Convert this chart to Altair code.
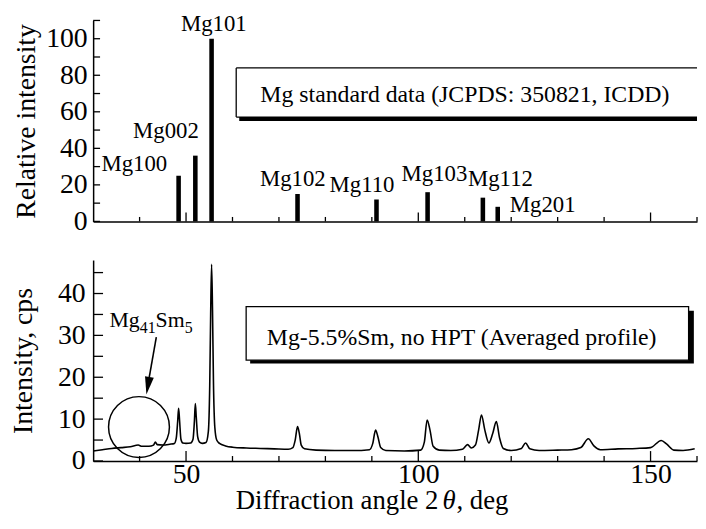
import altair as alt
import pandas as pd

FONT = "Liberation Serif"

# ---------------- data ----------------
# Mg standard (JCPDS 350821) stick pattern
std_angle = [48.4, 52.0, 55.5, 74.0, 91.0, 102.0, 113.9, 117.1]
std_int = [25, 36, 100, 15, 12, 16, 13, 8]
std_label = ["Mg100", "Mg002", "Mg101", "Mg102", "Mg110", "Mg103", "Mg112", "Mg201"]
# label anchors (left edge / baseline) in data units
label_x = [31.8, 38.6, 48.9, 65.9, 80.9, 96.4, 110.7, 119.7]
label_y = [27.6, 45.6, 104.0, 19.5, 15.9, 22.2, 19.5, 5.1]

# Mg-5.5%Sm, no HPT averaged XRD profile
spec_angle = [30.0, 32.0, 34.0, 36.0, 38.0, 39.7, 40.5, 42.0, 43.0, 43.4, 43.8, 45.0, 46.5,
              47.5, 47.9, 48.2, 48.4, 48.6, 48.9, 49.3, 50.0, 51.0, 51.5, 51.8, 52.0, 52.2,
              52.5, 52.9, 53.5, 54.3, 54.8, 55.1, 55.3, 55.5, 55.7, 55.9, 56.2, 56.6, 57.2,
              58.5, 60.0, 63.0, 66.0, 69.0, 72.0, 73.0, 73.5, 74.0, 74.4, 74.8, 75.5, 78.0,
              82.0, 86.0, 89.5, 90.2, 90.8, 91.3, 91.9, 93.0, 97.0, 100.5, 101.3, 101.9,
              102.5, 103.2, 104.5, 107.0, 109.5, 110.6, 111.4, 112.3, 113.0, 113.6, 114.3,
              115.2, 116.0, 116.8, 117.5, 118.3, 120.0, 122.2, 123.1, 124.0, 126.0, 130.0,
              133.0, 135.0, 136.6, 137.8, 139.2, 143.0, 147.0, 150.0, 152.3, 153.5, 155.0,
              157.0, 159.5]
spec_int = [2.4, 2.7, 3.0, 3.2, 3.4, 3.8, 3.5, 3.5, 3.8, 4.5, 3.9, 3.8, 4.0,
            4.2, 5.5, 9.5, 12.6, 9.8, 5.2, 4.3, 4.2, 4.3, 5.2, 9.5, 13.7, 10.5,
            5.8, 4.5, 4.2, 4.4, 7.0, 18.0, 35.0, 47.0, 36.0, 19.0, 8.0, 5.0, 4.2,
            3.6, 3.3, 3.1, 3.0, 2.9, 2.8, 3.2, 5.0, 8.2, 6.5, 3.8, 2.9, 2.6,
            2.5, 2.5, 2.7, 4.2, 7.4, 5.8, 3.2, 2.5, 2.4, 2.6, 4.5, 9.8,
            7.5, 3.5, 2.6, 2.5, 2.8, 3.9, 3.1, 3.8, 7.5, 11.0, 7.5,
            4.3, 6.5, 9.4, 5.5, 3.0, 2.5, 3.0, 4.3, 2.9, 2.5, 2.6,
            2.7, 3.2, 5.3, 3.6, 2.7, 2.9, 3.0, 3.2, 4.9, 4.0, 2.6,
            2.5, 2.9]

# axis ticks
x_major = [50, 100, 150]
x_minor = [40, 60, 70, 80, 90, 110, 120, 130, 140, 160]
top_y_labels = [0, 20, 40, 60, 80, 100]
top_y_ticks = [0, 10, 20, 30, 40, 50, 60, 70, 80, 90, 100, 110]
bot_y_labels = [0, 10, 20, 30, 40]
bot_y_ticks = [0, 5, 10, 15, 20, 25, 30, 35, 40, 45]

# text boxes
box1_text = "Mg standard data (JCPDS: 350821, ICDD)"
box2_text = "Mg-5.5%Sm, no HPT (Averaged profile)"

W, H = 610, 203
XDOM = [30, 160]

xs = alt.Scale(domain=XDOM, nice=False, zero=False)
ys_top = alt.Scale(domain=[0, 110], nice=False)
ys_bot = alt.Scale(domain=[0, 48], nice=False)

top_x_axis = alt.Axis(labels=False, ticks=False, title=None, grid=False, domainColor="black",
                      domainWidth=1.5)
top_y_axis = alt.Axis(values=top_y_labels, ticks=False, tickSize=0, grid=False, domainColor="black",
                      domainWidth=1.5, labelFont=FONT, labelFontSize=28, labelColor="black",
                      labelPadding=6, title="Relative intensity", titleFont=FONT, titleFontSize=28,
                      titleFontWeight="normal", titleColor="black", titleAngle=270,
                      titleBaseline="alphabetic", titleX=-59.5)
bot_x_axis = alt.Axis(values=x_major, ticks=False, tickSize=0, grid=False, domainColor="black",
                      domainWidth=1.5, labelFont=FONT, labelFontSize=28, labelColor="black",
                      labelPadding=0, labelFlush=False, title=None)
bot_y_axis = alt.Axis(values=bot_y_labels, ticks=False, tickSize=0, grid=False, domainColor="black",
                      domainWidth=1.5, labelFont=FONT, labelFontSize=28, labelColor="black",
                      labelPadding=8, title="Intensity, cps", titleFont=FONT, titleFontSize=28,
                      titleFontWeight="normal", titleColor="black", titleAngle=270,
                      titleBaseline="alphabetic", titleX=-62.5)


class Panel:
    def __init__(self, yscale, xaxis, yaxis):
        self.ys = yscale
        self.xa = xaxis
        self.ya = yaxis

    def x(self, field="x"):
        return alt.X(f"{field}:Q", scale=xs, axis=self.xa)

    def y(self, field="y"):
        return alt.Y(f"{field}:Q", scale=self.ys, axis=self.ya)

    def ticks(self, len_major, len_minor, yticks, ylen):
        return [
            alt.Chart(pd.DataFrame({"x": x_major})).mark_rule(color="black", strokeWidth=1.3)
            .encode(x=self.x(), y=alt.value(H), y2=alt.value(H - len_major)),
            alt.Chart(pd.DataFrame({"x": x_minor})).mark_rule(color="black", strokeWidth=1.3)
            .encode(x=self.x(), y=alt.value(H), y2=alt.value(H - len_minor)),
            alt.Chart(pd.DataFrame({"y": yticks})).mark_rule(color="black", strokeWidth=1.3)
            .encode(y=self.y(), x=alt.value(0), x2=alt.value(ylen)),
        ]


# ---------------- top panel ----------------
P = Panel(ys_top, top_x_axis, top_y_axis)
std_df = pd.DataFrame({"x": std_angle, "y": std_int})
lab_df = pd.DataFrame({"x": label_x, "y": label_y, "t": std_label})

bars = alt.Chart(std_df).mark_rule(color="black", strokeWidth=4.6).encode(
    x=P.x(), y=P.y(), y2=alt.datum(0))

labels = alt.Chart(lab_df).mark_text(font=FONT, fontSize=23, align="left", baseline="alphabetic",
                                     color="black").encode(x=P.x(), y=P.y(), text="t:N")

# box 1 runs off the right edge: only its left, top and bottom sides (plus bottom shadow) show
box1_shadow = alt.Chart(pd.DataFrame({"x": [61.45], "x2": [160], "y": [55.0], "y2": [57.1]})).mark_rect(
    color="black").encode(x=P.x(), x2="x2:Q", y=P.y(), y2="y2:Q")
box1_edges = alt.Chart(pd.DataFrame({"x": [60.8, 60.8, 60.8], "x2": [160, 160, 60.8],
                                     "y": [84.0, 57.1, 57.1], "y2": [84.0, 57.1, 84.0]})).mark_rule(
    color="black", strokeWidth=1.3).encode(x=P.x(), x2="x2:Q", y=P.y(), y2="y2:Q")
box1_label = alt.Chart(pd.DataFrame({"x": [66.0], "y": [65.4], "t": [box1_text]})).mark_text(
    font=FONT, fontSize=24, align="left", baseline="alphabetic", color="black").encode(
    x=P.x(), y=P.y(), text="t:N")

top = alt.layer(bars, box1_shadow, box1_edges, box1_label, labels,
                *P.ticks(9, 4.5, top_y_ticks, 7)).properties(width=W, height=H)

# ---------------- bottom panel ----------------
B = Panel(ys_bot, bot_x_axis, bot_y_axis)
spec_df = pd.DataFrame({"x": spec_angle, "y": spec_int})

line = alt.Chart(spec_df).mark_line(color="black", strokeWidth=1.6, interpolate="monotone").encode(
    x=B.x(), y=B.y())

box2_shadow = alt.Chart(pd.DataFrame({"x": [63.8], "x2": [159.32], "y": [23.29], "y2": [35.9]})).mark_rect(
    color="black").encode(x=B.x(), x2="x2:Q", y=B.y(), y2="y2:Q")
box2 = alt.Chart(pd.DataFrame({"x": [62.94], "x2": [158.19], "y": [24.09], "y2": [36.87]})).mark_rect(
    fill="white", stroke="black", strokeWidth=1.3).encode(x=B.x(), x2="x2:Q", y=B.y(), y2="y2:Q")
box2_label = alt.Chart(pd.DataFrame({"x": [67.4], "y": [27.7], "t": [box2_text]})).mark_text(
    font=FONT, fontSize=24, align="left", baseline="alphabetic", color="black").encode(
    x=B.x(), y=B.y(), text="t:N")

circle = alt.Chart(pd.DataFrame({"x": [39.87], "y": [8.1]})).mark_point(
    shape="circle", size=3780, filled=False, color="black", strokeWidth=1.5, opacity=1).encode(
    x=B.x(), y=B.y())
arrow_line = alt.Chart(pd.DataFrame({"x": [43.6], "x2": [41.6], "y": [29.6], "y2": [17.0]})).mark_rule(
    color="black", strokeWidth=1.6).encode(x=B.x(), x2="x2:Q", y=B.y(), y2="y2:Q")
arrow_head = alt.Chart(pd.DataFrame({"x": [41.47], "y": [15.86]})).mark_point(
    shape="M0,0L-0.25,-1L0.25,-1Z", size=1296, filled=True, color="black", angle=9.7, opacity=1).encode(
    x=B.x(), y=B.y())

phase_parts = [("Mg", 22, 0, 0), ("41", 16, 30.6, 6), ("Sm", 22, 46.6, 0), ("5", 16, 76.0, 6)]
phase_layers = []
for txt, fs, dx, dy in phase_parts:
    phase_layers.append(
        alt.Chart(pd.DataFrame({"x": [33.52], "y": [31.9], "t": [txt]})).mark_text(
            font=FONT, fontSize=fs, align="left", baseline="alphabetic", color="black", dx=dx, dy=dy
        ).encode(x=B.x(), y=B.y(), text="t:N"))

title_parts = [("Diffraction angle 2", 144.0, "normal"), ("\u03b8", 353.0, "italic"), (", deg", 367.0, "normal")]
title_layers = []
for txt, px, style in title_parts:
    title_layers.append(
        alt.Chart(pd.DataFrame({"t": [txt]})).mark_text(
            font=FONT, fontSize=27, fontStyle=style, align="left", baseline="alphabetic", color="black"
        ).encode(x=alt.value(px), y=alt.value(H + 49), text="t:N"))

bottom = alt.layer(line, box2_shadow, box2, box2_label, circle, arrow_line, arrow_head,
                   *phase_layers, *title_layers,
                   *B.ticks(10, 5, bot_y_ticks, 10)).properties(width=W, height=H)

chart = alt.vconcat(top, bottom, spacing=25).properties(
    padding={"left": 1, "top": 3, "right": 0, "bottom": 0}
).configure(font=FONT).configure_view(strokeWidth=0)

chart.save("out.html", embed_options={"renderer": "svg", "actions": False})
